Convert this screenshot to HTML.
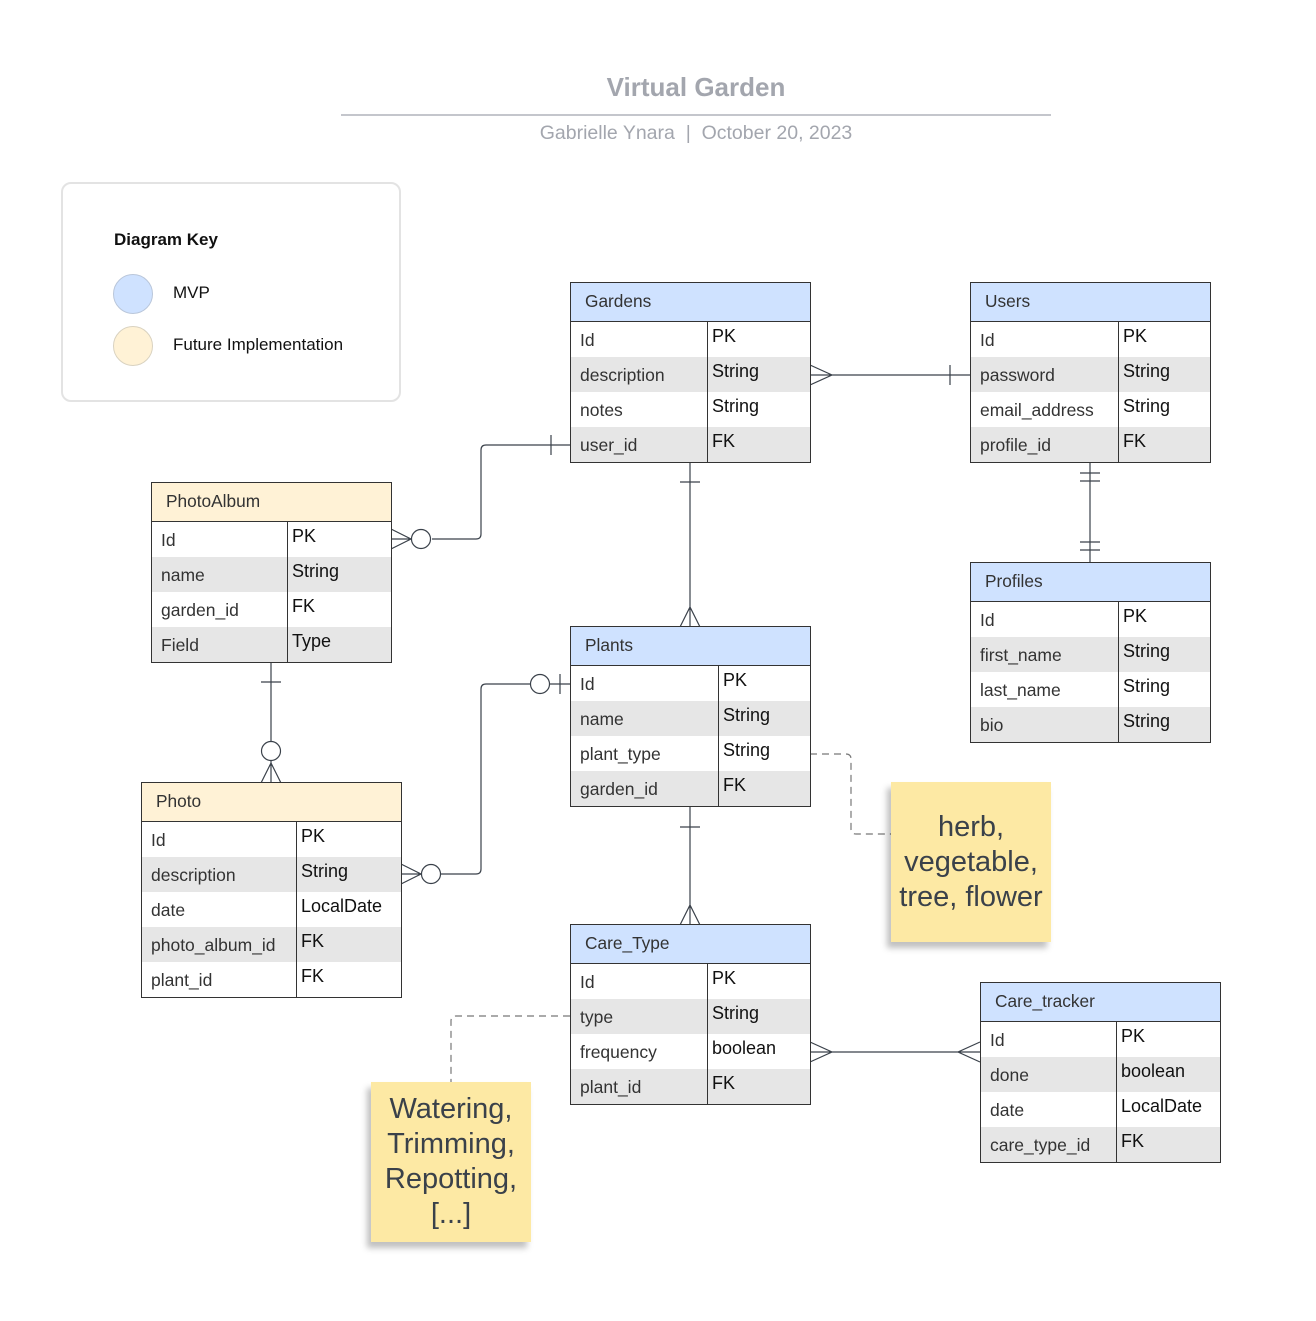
<!DOCTYPE html>
<html><head><meta charset="utf-8"><style>
body{margin:0;width:1316px;height:1321px;background:#fff;position:relative;font-family:"Liberation Sans",sans-serif;overflow:hidden}
.t{position:absolute;background:#fff}
.t::after{content:"";position:absolute;left:0;top:0;right:0;bottom:0;border:1px solid #333;pointer-events:none}
.h{height:40px;line-height:38px;padding-left:15px;border-bottom:1px solid #333;font-size:17.3px;color:#333;box-sizing:border-box}
.r{height:35px;position:relative;font-size:17.5px}
.g{background:#e6e6e6}
.a{position:absolute;left:10px;top:8px;color:#333}
.b{position:absolute;left:calc(var(--d) + 5px);top:4px;color:#111;font-size:18px}
.v{position:absolute;top:40px;bottom:0;left:var(--d);width:1px;background:#333}
.blue{background:#cfe2ff}.cream{background:#fff2d6}
.note{position:absolute;width:160px;height:160px;background:#fde9a4;box-shadow:-4px 6px 6px rgba(0,0,0,.25);display:flex;align-items:center;justify-content:center;text-align:center;font-size:29px;line-height:35px;color:#3a414a}
</style></head><body>
<div style="position:absolute;left:341px;width:710px;top:72px;text-align:center;font-size:26px;font-weight:bold;color:#a3a6ae">Virtual Garden</div>
<div style="position:absolute;left:341px;width:710px;top:114px;height:2px;background:#c4c6cc"></div>
<div style="position:absolute;left:341px;width:710px;top:122px;text-align:center;font-size:19.5px;color:#a3a6ae">Gabrielle Ynara &nbsp;| &nbsp;October 20, 2023</div>

<div style="position:absolute;left:61px;top:182px;width:340px;height:220px;border:2px solid #e3e3e3;border-radius:10px;box-sizing:border-box"></div>
<div style="position:absolute;left:114px;top:230px;font-size:17px;font-weight:bold;color:#111">Diagram Key</div>
<div style="position:absolute;left:113px;top:274px;width:38px;height:38px;border-radius:50%;background:#cfe2ff;border:1px solid #b9c6da"></div>
<div style="position:absolute;left:173px;top:283px;font-size:17px;color:#111">MVP</div>
<div style="position:absolute;left:113px;top:326px;width:38px;height:38px;border-radius:50%;background:#fff2d6;border:1px solid #d9d2c0"></div>
<div style="position:absolute;left:173px;top:335px;font-size:17px;color:#111">Future Implementation</div>

<svg style="position:absolute;left:0;top:0" width="1316" height="1321" fill="none" stroke="#3a414a" stroke-width="1.2">
<path d="M810 375H970M810 365L832 375L810 385M950 365V385"/>
<path d="M570 445H486Q481 445 481 450V534Q481 539 476 539H432M551 435V455M391 529L411 539L391 549M391 539H411"/>
<circle cx="421" cy="539" r="9.5" fill="#fff"/>
<path d="M690 462V627M680 482H700M680 627L690 607L700 627"/>
<path d="M1090 462V563M1080 473H1100M1080 481H1100M1080 542H1100M1080 550H1100"/>
<path d="M271 662V741M271 761V783M261 682H281M261 783L271 763L281 783"/>
<circle cx="271" cy="751" r="9.5" fill="#fff"/>
<path d="M570 684H550M530 684H486Q481 684 481 689V869Q481 874 476 874H441M560 674V694M401 864L421 874L401 884M401 874H421"/>
<circle cx="540" cy="684" r="9.5" fill="#fff"/>
<circle cx="431" cy="874" r="9.5" fill="#fff"/>
<path d="M690 806V925M680 827H700M680 925L690 905L700 925"/>
<path d="M810 1052H980M810 1042L832 1052L810 1062M980 1042L958 1052L980 1062"/>
<path stroke="#777" stroke-dasharray="7 5" d="M810 754H846Q851 754 851 759V829Q851 834 856 834H891M570 1016H456Q451 1016 451 1021V1082"/>
</svg>

<div class="t" style="left:570px;top:282px;width:241px;height:181px;--d:137px"><div class="h blue">Gardens</div>
<div class="r"><span class="a">Id</span><span class="b">PK</span></div>
<div class="r g"><span class="a">description</span><span class="b">String</span></div>
<div class="r"><span class="a">notes</span><span class="b">String</span></div>
<div class="r g"><span class="a">user_id</span><span class="b">FK</span></div><div class="v"></div></div>

<div class="t" style="left:970px;top:282px;width:241px;height:181px;--d:148px"><div class="h blue">Users</div>
<div class="r"><span class="a">Id</span><span class="b">PK</span></div>
<div class="r g"><span class="a">password</span><span class="b">String</span></div>
<div class="r"><span class="a">email_address</span><span class="b">String</span></div>
<div class="r g"><span class="a">profile_id</span><span class="b">FK</span></div><div class="v"></div></div>

<div class="t" style="left:970px;top:562px;width:241px;height:181px;--d:148px"><div class="h blue">Profiles</div>
<div class="r"><span class="a">Id</span><span class="b">PK</span></div>
<div class="r g"><span class="a">first_name</span><span class="b">String</span></div>
<div class="r"><span class="a">last_name</span><span class="b">String</span></div>
<div class="r g"><span class="a">bio</span><span class="b">String</span></div><div class="v"></div></div>

<div class="t" style="left:151px;top:482px;width:241px;height:181px;--d:136px"><div class="h cream">PhotoAlbum</div>
<div class="r"><span class="a">Id</span><span class="b">PK</span></div>
<div class="r g"><span class="a">name</span><span class="b">String</span></div>
<div class="r"><span class="a">garden_id</span><span class="b">FK</span></div>
<div class="r g"><span class="a">Field</span><span class="b">Type</span></div><div class="v"></div></div>

<div class="t" style="left:141px;top:782px;width:261px;height:216px;--d:155px"><div class="h cream">Photo</div>
<div class="r"><span class="a">Id</span><span class="b">PK</span></div>
<div class="r g"><span class="a">description</span><span class="b">String</span></div>
<div class="r"><span class="a">date</span><span class="b">LocalDate</span></div>
<div class="r g"><span class="a">photo_album_id</span><span class="b">FK</span></div>
<div class="r"><span class="a">plant_id</span><span class="b">FK</span></div><div class="v"></div></div>

<div class="t" style="left:570px;top:626px;width:241px;height:181px;--d:148px"><div class="h blue">Plants</div>
<div class="r"><span class="a">Id</span><span class="b">PK</span></div>
<div class="r g"><span class="a">name</span><span class="b">String</span></div>
<div class="r"><span class="a">plant_type</span><span class="b">String</span></div>
<div class="r g"><span class="a">garden_id</span><span class="b">FK</span></div><div class="v"></div></div>

<div class="t" style="left:570px;top:924px;width:241px;height:181px;--d:137px"><div class="h blue">Care_Type</div>
<div class="r"><span class="a">Id</span><span class="b">PK</span></div>
<div class="r g"><span class="a">type</span><span class="b">String</span></div>
<div class="r"><span class="a">frequency</span><span class="b">boolean</span></div>
<div class="r g"><span class="a">plant_id</span><span class="b">FK</span></div><div class="v"></div></div>

<div class="t" style="left:980px;top:982px;width:241px;height:181px;--d:136px"><div class="h blue">Care_tracker</div>
<div class="r"><span class="a">Id</span><span class="b">PK</span></div>
<div class="r g"><span class="a">done</span><span class="b">boolean</span></div>
<div class="r"><span class="a">date</span><span class="b">LocalDate</span></div>
<div class="r g"><span class="a">care_type_id</span><span class="b">FK</span></div><div class="v"></div></div>

<div class="note" style="left:891px;top:782px">herb,<br>vegetable,<br>tree, flower</div>
<div class="note" style="left:371px;top:1082px">Watering,<br>Trimming,<br>Repotting,<br>[...]</div>
</body></html>
